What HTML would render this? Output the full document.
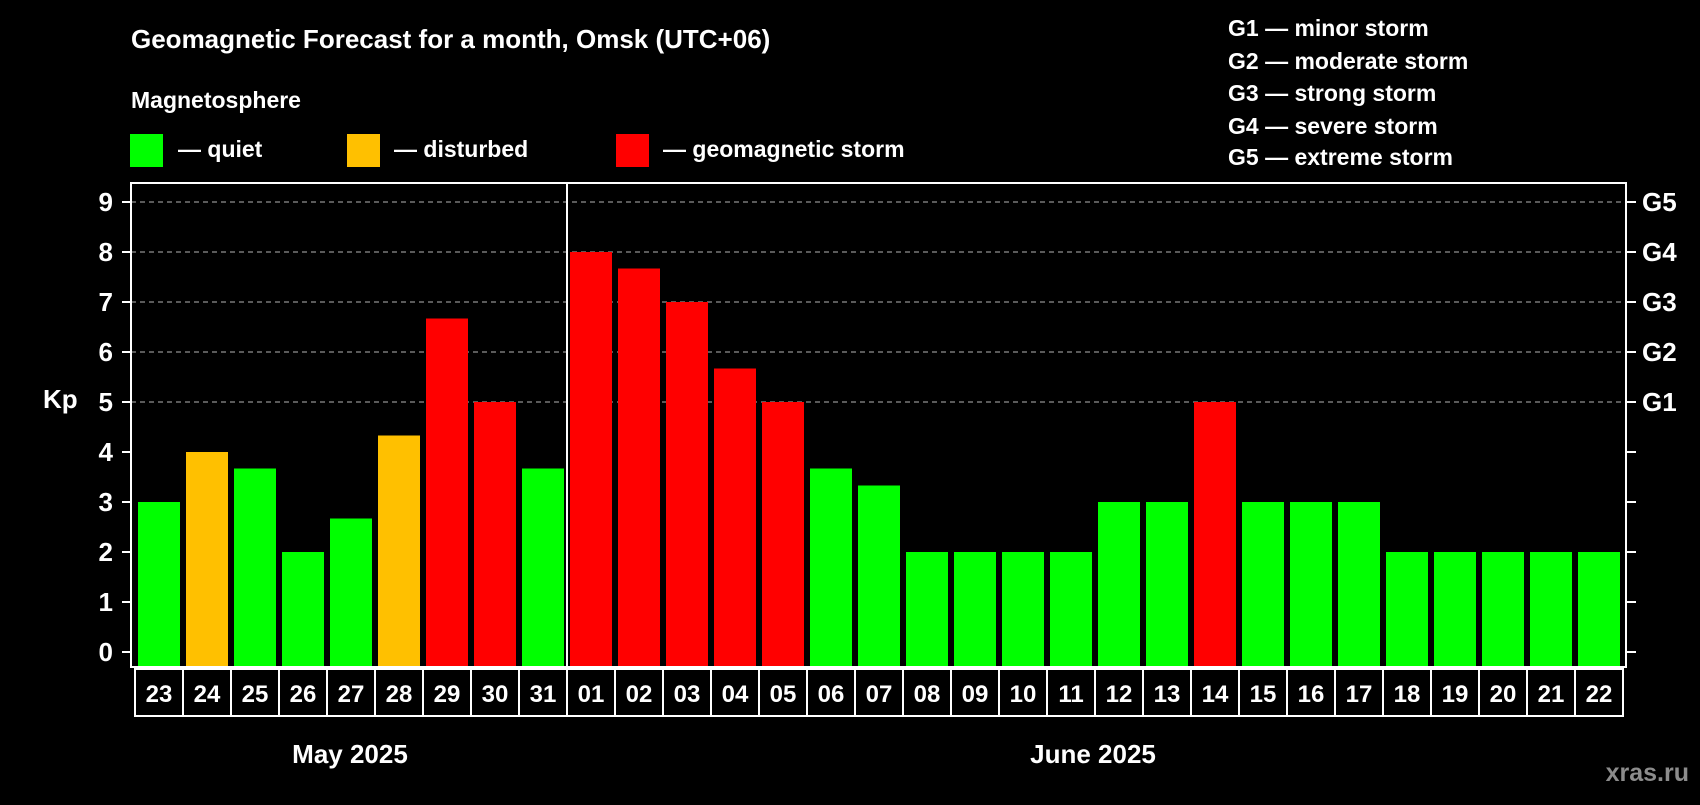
<!DOCTYPE html>
<html><head><meta charset="utf-8"><style>
html,body{margin:0;padding:0;background:#000;}
svg, svg text{font-family:"Liberation Sans",Arial,sans-serif;font-weight:bold;}
</style></head><body>
<svg id="chart" width="1700" height="800" viewBox="0 0 1700 800" font-family="Liberation Sans, Arial, sans-serif" font-weight="bold">
<rect x="0" y="0" width="1700" height="800" fill="#000"/>
<text x="131" y="48" fill="#fff" font-size="26">Geomagnetic Forecast for a month, Omsk (UTC+06)</text>
<text x="131" y="108" fill="#fff" font-size="23">Magnetosphere</text>
<g>
<rect x="130" y="134" width="33" height="33" fill="#00ff00"/>
<text x="178" y="157" fill="#fff" font-size="23">— quiet</text></g>
<g>
<rect x="347" y="134" width="33" height="33" fill="#ffc000"/>
<text x="394" y="157" fill="#fff" font-size="23">— disturbed</text></g>
<g>
<rect x="616" y="134" width="33" height="33" fill="#ff0000"/>
<text x="663" y="157" fill="#fff" font-size="23">— geomagnetic storm</text></g>
<g font-size="23" fill="#fff">
<text x="1228" y="36">G1 — minor storm</text>
<text x="1228" y="69">G2 — moderate storm</text>
<text x="1228" y="101">G3 — strong storm</text>
<text x="1228" y="134">G4 — severe storm</text>
<text x="1228" y="165">G5 — extreme storm</text>
</g>
<text x="43" y="408" fill="#fff" font-size="26">Kp</text>
<text x="350" y="763" fill="#fff" font-size="26" text-anchor="middle">May 2025</text>
<text x="1093" y="763" fill="#fff" font-size="26" text-anchor="middle">June 2025</text>
<text x="1689" y="781" fill="#8c8c8c" font-size="25" text-anchor="end">xras.ru</text>
<g id="grid"></g><g id="bars"></g><g id="axes"></g>
</svg>
<script>
const days = ["23","24","25","26","27","28","29","30","31","01","02","03","04","05","06","07","08","09","10","11","12","13","14","15","16","17","18","19","20","21","22"];
const kpValues = [3,4,3.67,2,2.67,4.33,6.67,5,3.67,8,7.67,7,5.67,5,3.67,3.33,2,2,2,2,3,3,5,3,3,3,2,2,2,2,2];
const yTicks = [0,1,2,3,4,5,6,7,8,9];
const gLabels = ["","","","","","G1","G2","G3","G4","G5"];
(function(){
const NS="http://www.w3.org/2000/svg";
const pLeft=131,pRight=1626,pTop=183,pBottom=667;
const x0=135,pitch=48,barW=42;
const yS=v=>652-50*v;
const xs=i=>x0+pitch*i;
function mk(t,a,p){const e=document.createElementNS(NS,t);for(const k in a)e.setAttribute(k,a[k]);p.appendChild(e);return e;}
const grid=document.getElementById('grid'),bars=document.getElementById('bars'),axes=document.getElementById('axes');
yTicks.forEach((v,i)=>{
  if(v>=5){const l=mk('line',{x1:pLeft,x2:pRight,y1:yS(v),y2:yS(v),stroke:'#909090','stroke-width':1.2,'stroke-dasharray':'5,4'},grid);
  
  }
  const t1=mk('line',{x1:pLeft-9,x2:pLeft,y1:yS(v),y2:yS(v),stroke:'#fff','stroke-width':2},axes);
  
  
  const t2=mk('line',{x1:pRight,x2:pRight+10,y1:yS(v),y2:yS(v),stroke:'#fff','stroke-width':2},axes);
  
  
  const tl=mk('text',{x:113,y:yS(v)+9,fill:'#fff','font-size':26,'text-anchor':'end'},axes);tl.textContent=v;
  
  
  if(gLabels[i]){const g=mk('text',{x:1642,y:yS(v)+9,fill:'#fff','font-size':26},axes);g.textContent=gLabels[i];
  
  }
});
days.forEach((d,i)=>{
  const v=kpValues[i];
  const c=v>=5?'#ff0000':(v>=4?'#ffc000':'#00ff00');
  const r=mk('rect',{x:xs(i)+3,y:yS(v),width:barW,height:pBottom-yS(v),fill:c},bars);
  
  
  const b=mk('rect',{x:xs(i),y:669,width:pitch,height:47,fill:'none',stroke:'#fff','stroke-width':2},axes);
  
  
  const t=mk('text',{x:xs(i)+pitch/2,y:702,fill:'#fff','font-size':24,'text-anchor':'middle'},axes);t.textContent=d;
  
  
});
const f=mk('rect',{x:pLeft,y:pTop,width:pRight-pLeft,height:pBottom-pTop,fill:'none',stroke:'#fff','stroke-width':2},axes);


const sep=mk('line',{x1:xs(9),x2:xs(9),y1:pTop,y2:716,stroke:'#fff','stroke-width':2},axes);


})();
</script>
</body></html>
